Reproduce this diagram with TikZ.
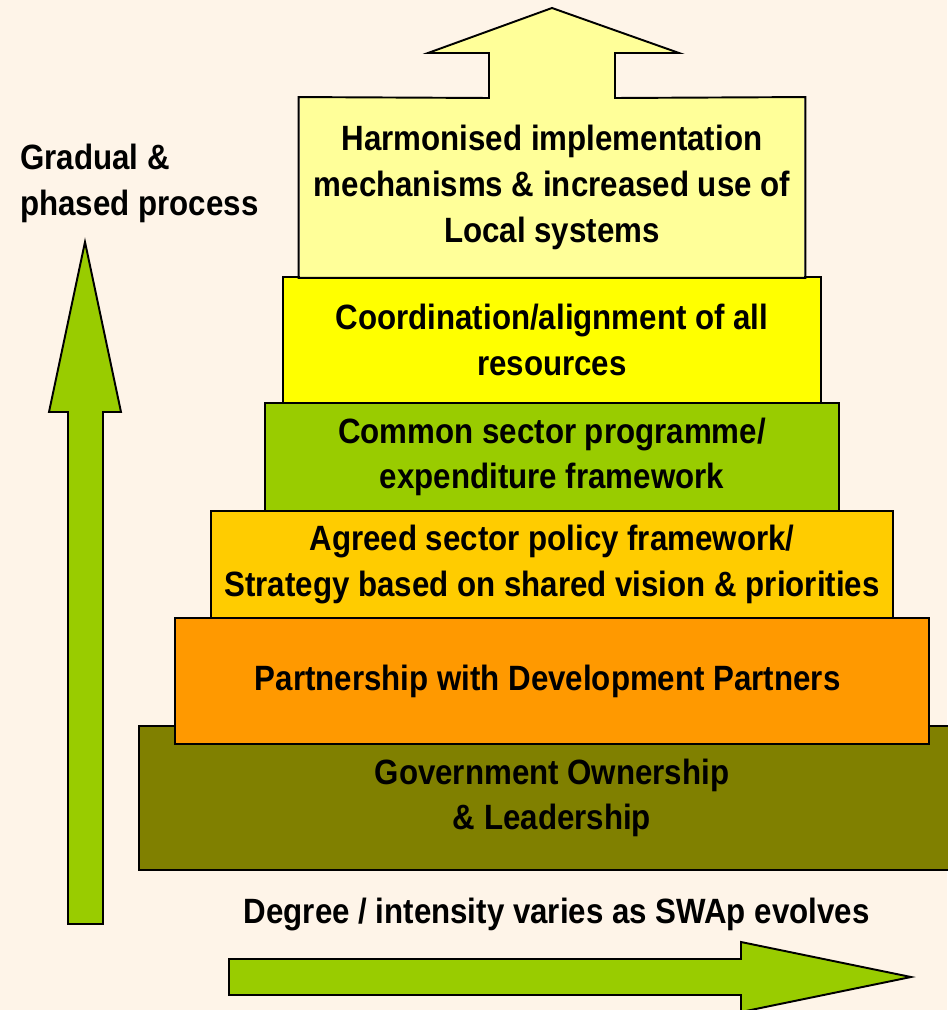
\documentclass[tikz,border=0pt]{standalone}
\usepackage{fontspec}
\setmainfont[FakeStretch=0.89]{Liberation Sans}
\usepackage{tikz}
\usetikzlibrary{positioning}
\definecolor{mycream}{RGB}{254,244,232}
\definecolor{mypale}{RGB}{255,255,153}
\definecolor{myyellow}{RGB}{255,255,0}
\definecolor{mygreen}{RGB}{153,204,0}
\definecolor{mygold}{RGB}{255,204,0}
\definecolor{myorange}{RGB}{255,153,0}
\definecolor{myolive}{RGB}{128,128,0}
\tikzstyle{outline}=[line width=1.1pt, black, line join=miter]
\tikzstyle{layer}=[outline, draw, rectangle, align=center, inner sep=0pt,
  font=\fontsize{20}{26}\selectfont\bfseries]
\tikzstyle{caption}=[align=left, inner sep=0pt, font=\fontsize{20}{26}\selectfont\bfseries]
\tikzstyle{bigarrow}=[outline, fill=mygreen]

\begin{document}
\begin{tikzpicture}[x=0.02cm, y=-0.02cm]

\fill[mycream] (0,0) rectangle (947,1010);
\useasboundingbox (0,0) rectangle (947,1010);

% Layers, bottom to top
\node[layer] (gov) at (552,798) [fill=myolive, minimum width=16.52cm, minimum height=2.88cm]{ Government Ownership\\\& Leadership };
\node[layer] (partner) at (552,681) [fill=myorange, minimum width=15.08cm, minimum height=2.52cm]{ Partnership with Development Partners };
\node[layer] (policy) at (552,564.5) [fill=mygold, minimum width=13.66cm, minimum height=2.14cm]{ Agreed sector policy framework/\\Strategy based on shared vision \& priorities };
\node[layer] (common) at (552,457) [fill=mygreen, minimum width=11.5cm, minimum height=2.16cm]{ Common sector programme/\\expenditure framework };
\node[layer] (coord) at (552,340) [fill=myyellow, minimum width=10.78cm, minimum height=2.52cm]{ Coordination/alignment of all\\resources };
\node[layer, draw=none] (harm) at (552,187.5) [fill=mypale, minimum width=10.1cm, minimum height=3.58cm]{ Harmonised implementation\\mechanisms \& increased use of\\Local systems };

% top box with its arrow
\fill[mypale] (489,99) -- (489,53) -- (428,53) -- (552,8) -- (679,53) -- (615,53) -- (615,99) -- cycle;
\draw[outline] (harm.south west) -- (harm.north west) -- (489,98) -- (489,53) -- (428,53) -- (552,8)
  -- (679,53) -- (615,53) -- (615,98) -- (harm.north east) -- (harm.south east) -- cycle;

% side arrows
\draw[bigarrow] (68,924) -- (68,412) -- (49,412) -- (85,242) -- (121,412) -- (103,412) -- (103,924) -- cycle;
\draw[bigarrow] (229,959) -- (741,959) -- (741,942) -- (911,977) -- (741,1012) -- (741,995) -- (229,995) -- cycle;

% Labels
\node[caption, anchor=base west] (gradual) at (20,215) { Gradual \&\\phased process };
\node[caption, anchor=base] (degree) at (561,923) { Degree / intensity varies as SWAp evolves };

\end{tikzpicture}
\end{document}
